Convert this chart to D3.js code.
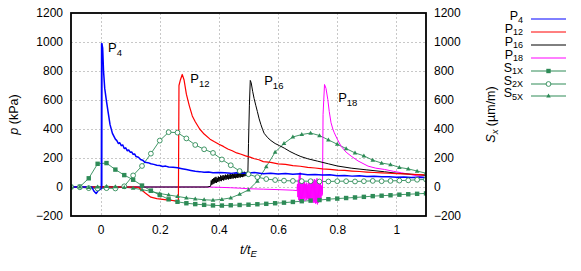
<!DOCTYPE html>
<html>
<head>
<meta charset="utf-8">
<script src="https://cdn.jsdelivr.net/npm/d3@7"></script>
<style>
  body { margin: 0; background: #fff; }
  text { font-family: "Liberation Sans", Arial, sans-serif; }
</style>
</head>
<body>
<div id="chart"></div>
<script>
// pressure gauges: [t/tE, p (kPa)]
const p4 = [[-0.1,0],[-0.03,0],[-0.022,-30],[-0.015,-45],[-0.008,-25],[0,-15],[0.003,-10],[0.004,990],[0.007,960],[0.01,800],
  [0.014,680],[0.02,590],[0.026,510],[0.032,430],[0.04,370],[0.05,330],[0.055,320],[0.06,300],[0.065,305],[0.07,285],[0.075,290],
  [0.08,265],[0.085,270],[0.09,250],[0.095,255],[0.1,240],[0.105,242],[0.11,225],[0.115,228],[0.12,210],[0.128,205],[0.135,190],
  [0.142,185],[0.15,170],[0.16,168],[0.17,160],[0.18,156],[0.19,150],[0.2,148],[0.21,142],[0.22,144],[0.23,138],[0.245,136],
  [0.26,132],[0.275,126],[0.29,120],[0.305,114],[0.32,108],[0.335,106],[0.35,102],[0.365,104],[0.38,98],[0.4,100],[0.42,98],
  [0.44,94],[0.46,99],[0.48,94],[0.5,96],[0.52,100],[0.55,92],[0.575,95],[0.6,90],[0.625,93],[0.65,88],[0.675,91],[0.7,85],
  [0.725,87],[0.75,82],[0.775,84],[0.8,78],[0.825,80],[0.85,75],[0.875,77],[0.9,72],[0.925,74],[0.95,70],[0.975,71],[1.0,68],
  [1.025,69],[1.05,66],[1.075,67],[1.1,65]];

const p12 = [[-0.1,0],[0.12,0],[0.13,-5],[0.15,-40],[0.17,-70],[0.19,-80],[0.21,-85],[0.23,-90],[0.25,-95],[0.263,-100],
  [0.265,700],[0.27,740],[0.276,776],[0.282,740],[0.29,640],[0.3,560],[0.31,490],[0.32,450],[0.335,400],[0.35,365],[0.37,330],
  [0.385,312],[0.4,295],[0.415,280],[0.43,262],[0.445,250],[0.46,235],[0.475,226],[0.49,215],[0.505,206],[0.52,195],[0.535,188],
  [0.55,175],[0.575,170],[0.6,160],[0.625,156],[0.65,148],[0.675,143],[0.7,135],[0.725,131],[0.75,125],[0.775,122],[0.8,117],
  [0.825,114],[0.85,110],[0.875,107],[0.9,103],[0.925,100],[0.95,97],[0.975,95],[1.0,92],[1.025,90],[1.05,88],[1.075,86],[1.1,84]];

const p16 = [[-0.1,0],[0.36,0],[0.372,5],[0.374,45],[0.376,15],[0.378,55],[0.38,20],[0.382,60],[0.384,25],[0.386,65],[0.388,30],
  [0.39,70],[0.392,28],[0.394,62],[0.396,35],[0.398,72],[0.4,38],[0.402,68],[0.404,42],[0.406,80],[0.408,40],[0.41,75],
  [0.412,48],[0.414,82],[0.416,45],[0.418,78],[0.42,52],[0.422,85],[0.424,50],[0.426,80],[0.428,55],[0.43,88],[0.432,52],
  [0.434,84],[0.436,58],[0.438,90],[0.44,55],[0.442,86],[0.444,60],[0.446,92],[0.448,58],[0.45,88],[0.452,62],[0.454,95],
  [0.456,60],[0.458,90],[0.46,65],[0.462,96],[0.464,62],[0.466,92],[0.468,68],[0.47,100],[0.472,65],[0.474,95],[0.476,70],
  [0.478,102],[0.48,68],[0.482,98],[0.484,72],[0.486,105],[0.488,75],[0.49,100],[0.492,78],[0.494,104],[0.496,85],[0.498,110],
  [0.5,300],[0.503,560],[0.506,735],[0.509,720],[0.514,660],[0.519,610],[0.525,560],[0.53,520],
  [0.536,470],[0.542,430],[0.548,395],[0.553,370],[0.565,340],[0.576,320],[0.59,300],[0.605,285],[0.621,268],[0.64,245],
  [0.66,225],[0.677,210],[0.7,195],[0.734,178],[0.77,160],[0.8,145],[0.847,130],[0.9,118],[0.96,105],[1.0,95],[1.05,88],[1.1,80]];

const p18 = [[-0.1,0],[0.36,0],[0.4,-2],[0.44,-5],[0.47,-8],[0.5,-12],[0.55,-15],[0.6,-18],[0.65,-22],
  [0.664,-25],[0.6655,20],[0.667,-70],[0.6685,50],[0.67,-90],[0.6715,80],[0.673,-100],[0.6745,100],[0.676,-95],[0.6775,60],
  [0.679,-105],[0.6805,45],[0.682,-90],[0.6835,30],[0.685,-85],[0.6865,25],[0.688,-80],[0.6895,35],[0.691,-95],[0.6925,20],
  [0.694,-75],[0.6955,30],[0.697,-90],[0.6985,15],[0.7,-80],[0.7015,25],[0.703,-85],[0.7045,30],[0.706,-95],[0.7075,40],
  [0.709,-100],[0.7105,35],[0.712,-90],[0.7135,45],[0.715,-105],[0.7165,50],[0.718,-100],[0.7195,40],[0.721,-110],[0.7225,55],
  [0.724,-105],[0.7255,45],[0.727,-115],[0.7285,50],[0.73,-110],[0.7315,60],[0.733,-120],[0.7345,45],[0.736,-110],[0.7375,40],
  [0.739,-100],[0.7405,30],[0.742,-95],[0.7435,25],[0.745,-80],[0.7465,10],[0.748,-60],[0.75,-50],[0.752,500],
  [0.757,707],[0.762,680],[0.768,604],[0.773,520],[0.779,443],[0.785,400],[0.79,374],[0.8,330],[0.813,281],[0.83,240],
  [0.847,213],[0.87,180],[0.904,144],[0.93,130],[0.96,121],[0.99,108],[1.017,98],[1.05,85],[1.08,72],[1.1,63]];

// strain gauges (right axis, µm/m), sampled at tS
const tS = [-0.1,-0.07,-0.04,-0.01,0.02,0.05,0.08,0.11,0.14,0.17,0.2,0.23,0.26,0.29,0.32,0.35,0.38,0.41,0.44,0.47,0.5,
  0.53,0.56,0.59,0.62,0.65,0.68,0.71,0.74,0.77,0.8,0.83,0.86,0.89,0.92,0.95,0.98,1.01,1.04,1.07,1.1];
const s1x = [0,2,60,160,165,120,82,50,10,-25,-55,-85,-102,-112,-118,-123,-127,-128,-126,-124,-122,-119,-116,-112,-108,
  -103,-98,-94,-90,-84,-80,-76,-72,-68,-63,-60,-57,-53,-50,-47,-44];
const s2x = [0,-2,-8,-10,-8,-10,5,80,145,230,320,378,375,335,290,260,235,190,150,110,88,68,55,48,44,42,40,40,38,38,40,
  40,38,40,42,40,42,44,46,50,52];
const s5x = [0,0,-2,0,5,2,-2,-8,-18,-30,-45,-55,-65,-75,-82,-88,-91,-85,-75,-50,-20,40,140,240,300,345,362,372,355,325,
  295,265,235,215,185,165,155,135,125,110,95];

const xTicks = [0, 0.2, 0.4, 0.6, 0.8, 1];
const xTickLabels = ["0", "0.2", "0.4", "0.6", "0.8", "1"];
const yTicks = [-200, 0, 200, 400, 600, 800, 1000, 1200];

const W = 581, H = 271;
const margin = { top: 13, right: 155, bottom: 55, left: 71 },
      width = W - margin.left - margin.right,
      height = H - margin.top - margin.bottom;

const svg = d3.select("#chart").append("svg")
  .attr("width", W).attr("height", H);
const g = svg.append("g").attr("transform", `translate(${margin.left},${margin.top})`);

const x = d3.scaleLinear().domain([-0.1, 1.1]).range([0, width]);
const y = d3.scaleLinear().domain([-200, 1200]).range([height, 0]);

// grid
g.append("g").selectAll("line").data(xTicks).enter().append("line")
  .attr("x1", d => Math.round(x(d)) + 0.5).attr("x2", d => Math.round(x(d)) + 0.5)
  .attr("y1", 0).attr("y2", height)
  .attr("stroke", "#c8c8c8").attr("stroke-width", 1).attr("stroke-dasharray", "2,2");
g.append("g").selectAll("line").data(yTicks.slice(1, -1)).enter().append("line")
  .attr("y1", d => Math.round(y(d)) + 0.5).attr("y2", d => Math.round(y(d)) + 0.5)
  .attr("x1", 0).attr("x2", width)
  .attr("stroke", "#c8c8c8").attr("stroke-width", 1).attr("stroke-dasharray", "2,2");

// axes (labels only, gnuplot style)
const fmt = d3.format("d");
const leftAxis = g.append("g").call(d3.axisLeft(y).tickValues(yTicks).tickFormat(fmt).tickSize(0).tickPadding(8));
const rightAxis = g.append("g").attr("transform", `translate(${width},0)`)
  .call(d3.axisRight(y).tickValues(yTicks).tickFormat(fmt).tickSize(0).tickPadding(8));
const bottomAxis = g.append("g").attr("transform", `translate(0,${height})`)
  .call(d3.axisBottom(x).tickValues(xTicks).tickFormat((d, i) => xTickLabels[i]).tickSize(0).tickPadding(9));
[leftAxis, rightAxis, bottomAxis].forEach(a => {
  a.select(".domain").remove();
  a.selectAll("text").attr("font-size", 12).attr("fill", "#000")
    .attr("font-family", "'Liberation Sans', Arial, sans-serif");
});

const line = d3.line().x(d => x(d[0])).y(d => y(d[1]));
const clip = g.append("clipPath").attr("id", "clip").append("rect").attr("width", width).attr("height", height);
const plot = g.append("g").attr("clip-path", "url(#clip)");

const green = "#2e8b57";
const sSeries = [
  { vals: s1x, marker: "square" },
  { vals: s2x, marker: "circle" },
  { vals: s5x, marker: "triangle" }
];

// pressures
const pSeries = [
  { data: p18, color: "#ff00ff", w: 1 },
  { data: p16, color: "#000000", w: 1 },
  { data: p12, color: "#ff0000", w: 1.2 },
  { data: p4, color: "#0000ff", w: 1.5 }
];

// light band at the P4 spike
plot.append("line")
  .attr("x1", x(0.004)).attr("x2", x(0.004)).attr("y1", y(-10)).attr("y2", y(990))
  .attr("stroke", "#9a9aff").attr("stroke-width", 2.5);

// strains
sSeries.forEach(s => {
  const pts = tS.map((t, i) => [t, s.vals[i]]);
  plot.append("path").datum(pts).attr("d", line)
    .attr("fill", "none").attr("stroke", green).attr("stroke-width", 0.9);
});

pSeries.forEach(s => {
  plot.append("path").datum(s.data).attr("d", line)
    .attr("fill", "none").attr("stroke", s.color).attr("stroke-width", s.w)
    .attr("stroke-linejoin", "round");
});

function drawMarker(sel, type, cx, cy) {
  if (type === "square") {
    sel.append("rect").attr("x", cx - 2.2).attr("y", cy - 2.2).attr("width", 4.4).attr("height", 4.4)
      .attr("fill", green);
  } else if (type === "circle") {
    sel.append("circle").attr("cx", cx).attr("cy", cy).attr("r", 2.4)
      .attr("fill", "#fff").attr("stroke", green).attr("stroke-width", 0.9);
  } else {
    sel.append("path").attr("d", `M${cx},${cy - 2.4}L${cx + 2.3},${cy + 1.6}L${cx - 2.3},${cy + 1.6}Z`)
      .attr("fill", green);
  }
}
sSeries.forEach(s => {
  const mg = plot.append("g");
  tS.forEach((t, i) => drawMarker(mg, s.marker, x(t), y(s.vals[i])));
});

// frame
g.append("rect").attr("width", width).attr("height", height)
  .attr("fill", "none").attr("stroke", "#000").attr("stroke-width", 1.8);

// peak annotations
const annots = [
  { t: 0.025, p: 930, sub: "4" },
  { t: 0.303, p: 720, sub: "12" },
  { t: 0.553, p: 705, sub: "16" },
  { t: 0.803, p: 583, sub: "18" }
];
annots.forEach(a => {
  const tx = g.append("text").attr("x", x(a.t)).attr("y", y(a.p)).attr("font-size", 13);
  tx.append("tspan").text("P");
  tx.append("tspan").attr("font-size", 9.5).attr("dy", 4).text(a.sub);
});

// axis titles
const yl = svg.append("text").attr("transform", `translate(18,${margin.top + height / 2}) rotate(-90)`)
  .attr("text-anchor", "middle").attr("font-size", 12.5);
yl.append("tspan").attr("font-style", "italic").text("p");
yl.append("tspan").text(" (kPa)");

const y2l = svg.append("text").attr("transform", `translate(495,${margin.top + height / 2}) rotate(-90)`)
  .attr("text-anchor", "middle").attr("font-size", 12.5);
y2l.append("tspan").attr("font-style", "italic").text("S");
y2l.append("tspan").attr("font-size", 9.5).attr("dy", 3).attr("font-style", "italic").text("x");
y2l.append("tspan").attr("dy", -3).text(" (µm/m)");

const xl = svg.append("text").attr("x", margin.left + width / 2).attr("y", 254)
  .attr("text-anchor", "middle").attr("font-size", 12.5);
xl.append("tspan").attr("font-style", "italic").text("t/t");
xl.append("tspan").attr("font-style", "italic").attr("font-size", 9.5).attr("dy", 3).text("E");

// legend
const legendItems = [
  { main: "P", sub: "4", color: "#0000ff" },
  { main: "P", sub: "12", color: "#ff0000" },
  { main: "P", sub: "16", color: "#000000" },
  { main: "P", sub: "18", color: "#ff00ff" },
  { main: "S", sub: "1X", color: green, marker: "square" },
  { main: "S", sub: "2X", color: green, marker: "circle" },
  { main: "S", sub: "5X", color: green, marker: "triangle" }
];
const leg = svg.append("g");
legendItems.forEach((d, i) => {
  const ly = 19 + i * 12.9;
  const t = leg.append("text").attr("x", 523).attr("y", ly + 1).attr("text-anchor", "end").attr("font-size", 12.5);
  t.append("tspan").text(d.main);
  t.append("tspan").attr("font-size", 9).attr("dy", 2.5).text(d.sub);
  leg.append("line").attr("x1", 531).attr("x2", 566).attr("y1", Math.round(ly)).attr("y2", Math.round(ly))
    .attr("stroke", d.color).attr("stroke-width", 1);
  if (d.marker) drawMarker(leg, d.marker, 548.5, Math.round(ly));
});
</script>
</body>
</html>
